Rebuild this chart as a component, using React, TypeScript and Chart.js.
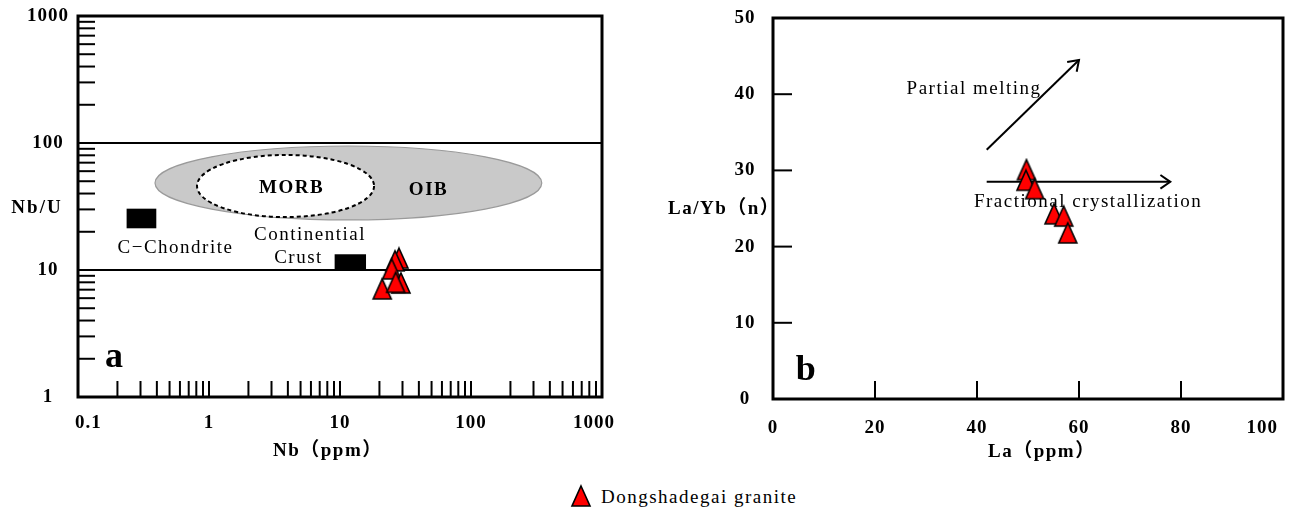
import React, { useEffect, useRef } from "react";
import { Chart, registerables } from "chart.js";

Chart.register(...registerables);

const FONT = "'Liberation Serif', 'Noto Sans CJK SC', serif";

const SERIES_NAME = "Dongshadegai granite";
// panel a : Nb (ppm) vs Nb/U
const NB_PPM = [28.2, 26.3, 24.8, 21.0, 29.2, 26.6];
const NB_U = [12.4, 11.8, 10.2, 7.1, 7.9, 8.0];
// panel b : La (ppm) vs La/Yb(n)
const LA_PPM = [49.7, 49.6, 51.3, 55.1, 57.0, 57.8];
const LA_YB_N = [30.1, 28.7, 27.6, 24.3, 24.0, 21.8];

const NB_TICKS = [0.1, 1, 10, 100, 1000];
const NB_U_TICKS = [1, 10, 100, 1000];
const LA_TICKS = [0, 20, 40, 60, 80, 100];
const LA_YB_TICKS = [0, 10, 20, 30, 40, 50];
const LOG_MINOR_MULTIPLIERS = [1, 2, 3, 4, 5, 6, 7, 8, 9];
const NB_U_REFERENCE_LINES = [100, 10];

// reference fields (data coordinates)
const OIB_FIELD = { xMin: 0.387, xMax: 347, yMin: 24.8, yMax: 94.7 };
const MORB_FIELD = { xMin: 0.81, xMax: 18.2, yMin: 26.1, yMax: 80.5 };
const C_CHONDRITE_BOX = { xMin: 0.235, xMax: 0.396, yMin: 21.3, yMax: 30.4 };
const CONTINENTAL_CRUST_BOX = { xMin: 9.1, xMax: 15.8, yMin: 9.87, yMax: 13.3 };

// trend arrows (data coordinates)
const PARTIAL_MELTING_X = [41.9, 60.0];
const PARTIAL_MELTING_Y = [32.7, 44.5];
const FRACTIONAL_X = [41.9, 77.9];
const FRACTIONAL_Y = [28.5, 28.5];

function makeTriangle() {
  const c = document.createElement("canvas");
  c.width = 22;
  c.height = 24;
  const ctx = c.getContext("2d")!;
  ctx.beginPath();
  ctx.moveTo(11, 2);
  ctx.lineTo(20, 22);
  ctx.lineTo(2, 22);
  ctx.closePath();
  ctx.fillStyle = "#ff0000";
  ctx.fill();
  ctx.lineWidth = 1.6;
  ctx.strokeStyle = "#000";
  ctx.lineJoin = "miter";
  ctx.stroke();
  return c;
}

type TextOpts = { size?: number; bold?: boolean; align?: CanvasTextAlign; spacing?: number };

function drawText(ctx: CanvasRenderingContext2D, s: string, x: number, y: number, o: TextOpts = {}) {
  ctx.save();
  ctx.font = `${o.bold ? "bold " : ""}${o.size ?? 19}px ${FONT}`;
  (ctx as any).letterSpacing = `${o.spacing ?? 1.5}px`;
  ctx.textAlign = o.align ?? "center";
  ctx.textBaseline = "alphabetic";
  ctx.fillStyle = "#000";
  ctx.fillText(s, x, y);
  ctx.restore();
}

function line(ctx: CanvasRenderingContext2D, x1: number, y1: number, x2: number, y2: number, w = 2) {
  ctx.save();
  ctx.beginPath();
  ctx.moveTo(x1, y1);
  ctx.lineTo(x2, y2);
  ctx.lineWidth = w;
  ctx.strokeStyle = "#000";
  ctx.stroke();
  ctx.restore();
}

function frame(chart: any) {
  const { ctx, chartArea: a } = chart;
  ctx.save();
  ctx.lineWidth = 3;
  ctx.strokeStyle = "#000";
  ctx.strokeRect(a.left, a.top, a.right - a.left, a.bottom - a.top);
  ctx.restore();
}

function boxPx(chart: any, b: { xMin: number; xMax: number; yMin: number; yMax: number }) {
  const sx = chart.scales.x;
  const sy = chart.scales.y;
  const x1 = sx.getPixelForValue(b.xMin);
  const x2 = sx.getPixelForValue(b.xMax);
  const y1 = sy.getPixelForValue(b.yMax);
  const y2 = sy.getPixelForValue(b.yMin);
  return { x1, x2, y1, y2 };
}

function xTickLabels(chart: any, values: number[], baselineOffset: number, minLeft: number | null, maxRight: number | null) {
  const { ctx, chartArea: a } = chart;
  const sx = chart.scales.x;
  ctx.save();
  ctx.font = `bold 19px ${FONT}`;
  (ctx as any).letterSpacing = "1px";
  values.forEach((v) => {
    const s = String(v);
    const w = ctx.measureText(s).width;
    let cx = sx.getPixelForValue(v);
    if (minLeft !== null && cx - w / 2 < minLeft) cx = minLeft + w / 2;
    if (maxRight !== null && cx + w / 2 > maxRight) cx = maxRight - w / 2;
    drawText(ctx, s, cx, a.bottom + baselineOffset, { bold: true, spacing: 1 });
  });
  ctx.restore();
}

function arrowHead(chart: any, datasetIndex: number) {
  const { ctx } = chart;
  const pts = chart.getDatasetMeta(datasetIndex).data;
  const p = pts[pts.length - 2];
  const q = pts[pts.length - 1];
  const ang = Math.atan2(q.y - p.y, q.x - p.x);
  const L = 12;
  const spread = Math.PI / 5.2;
  ctx.save();
  ctx.beginPath();
  ctx.moveTo(q.x - L * Math.cos(ang - spread), q.y - L * Math.sin(ang - spread));
  ctx.lineTo(q.x, q.y);
  ctx.lineTo(q.x - L * Math.cos(ang + spread), q.y - L * Math.sin(ang + spread));
  ctx.lineWidth = 2;
  ctx.strokeStyle = "#000";
  ctx.stroke();
  ctx.restore();
}

const spacingPlugin = {
  id: "spacing",
  beforeDraw(chart: any) {
    (chart.ctx as any).letterSpacing = "1px";
  },
  afterDraw(chart: any) {
    (chart.ctx as any).letterSpacing = "0px";
  },
};

export default function App() {
  const leftRef = useRef<HTMLCanvasElement>(null);
  const rightRef = useRef<HTMLCanvasElement>(null);

  useEffect(() => {
    const tri = makeTriangle();

    const yTickFont = { family: FONT, size: 19, weight: "bold" as const };

    const leftPlugin = {
      id: "leftDeco",
      beforeDatasetsDraw(chart: any) {
        const { ctx } = chart;
        // OIB field
        let b = boxPx(chart, OIB_FIELD);
        ctx.save();
        ctx.beginPath();
        ctx.ellipse((b.x1 + b.x2) / 2, (b.y1 + b.y2) / 2, (b.x2 - b.x1) / 2, (b.y2 - b.y1) / 2, 0, 0, Math.PI * 2);
        ctx.fillStyle = "#c9c9c9";
        ctx.fill();
        ctx.lineWidth = 1.2;
        ctx.strokeStyle = "#9a9a9a";
        ctx.stroke();
        ctx.restore();
        // MORB field
        b = boxPx(chart, MORB_FIELD);
        ctx.save();
        ctx.beginPath();
        ctx.ellipse((b.x1 + b.x2) / 2, (b.y1 + b.y2) / 2, (b.x2 - b.x1) / 2, (b.y2 - b.y1) / 2, 0, 0, Math.PI * 2);
        ctx.fillStyle = "#ffffff";
        ctx.fill();
        ctx.setLineDash([4, 3]);
        ctx.lineWidth = 2;
        ctx.strokeStyle = "#000";
        ctx.stroke();
        ctx.restore();
        // boxes
        [C_CHONDRITE_BOX, CONTINENTAL_CRUST_BOX].forEach((bx) => {
          const p = boxPx(chart, bx);
          ctx.save();
          ctx.fillStyle = "#000";
          ctx.fillRect(p.x1, p.y1, p.x2 - p.x1, p.y2 - p.y1);
          ctx.restore();
        });
        const sx = chart.scales.x;
        const sy = chart.scales.y;
        const P = (x: number, y: number) => [sx.getPixelForValue(x), sy.getPixelForValue(y)];
        let q = P(4.27, 40.4);
        drawText(ctx, "MORB", q[0], q[1], { bold: true });
        q = P(47.4, 38.9);
        drawText(ctx, "OIB", q[0], q[1], { bold: true });
        q = P(0.555, 13.6);
        drawText(ctx, "C\u2212Chondrite", q[0], q[1]);
        q = P(5.9, 17.2);
        drawText(ctx, "Continential", q[0], q[1]);
        q = P(4.82, 11.4);
        drawText(ctx, "Crust", q[0], q[1]);
        q = P(0.188, 1.72);
        drawText(ctx, "a", q[0], q[1], { bold: true, size: 36, spacing: 0 });
      },
      afterDatasetsDraw(chart: any) {
        const { ctx, chartArea: a } = chart;
        const sx = chart.scales.x;
        const sy = chart.scales.y;
        [0.1, 1, 10, 100].forEach((d) =>
          LOG_MINOR_MULTIPLIERS.forEach((m) => {
            const v = m * d;
            if (v <= NB_TICKS[0] || v >= NB_TICKS[NB_TICKS.length - 1]) return;
            const x = sx.getPixelForValue(v);
            line(ctx, x, a.bottom, x, a.bottom - 16, 2);
          })
        );
        [1, 10, 100].forEach((d) =>
          LOG_MINOR_MULTIPLIERS.forEach((m) => {
            const v = m * d;
            if (v <= NB_U_TICKS[0] || v >= NB_U_TICKS[NB_U_TICKS.length - 1]) return;
            const y = sy.getPixelForValue(v);
            line(ctx, a.left, y, a.left + 17, y, 2);
          })
        );
        frame(chart);
      },
      afterDraw(chart: any) {
        const { ctx, chartArea: a } = chart;
        xTickLabels(chart, NB_TICKS, 31, a.left - 3, a.right + 13);
        drawText(ctx, "Nb/U", a.left - 41, 213, { bold: true, spacing: 2 });
        drawText(ctx, "Nb\uFF08ppm\uFF09", a.left + 195, a.bottom + 59, { bold: true, align: "left" });
      },
    };

    const rightPlugin = {
      id: "rightDeco",
      beforeDatasetsDraw(chart: any) {
        const { ctx } = chart;
        const sx = chart.scales.x;
        const sy = chart.scales.y;
        const P = (x: number, y: number) => [sx.getPixelForValue(x), sy.getPixelForValue(y)];
        let q = P(26.2, 40.0);
        drawText(ctx, "Partial melting", q[0], q[1], { align: "left" });
        q = P(39.4, 25.2);
        drawText(ctx, "Fractional crystallization", q[0], q[1], { align: "left" });
        q = P(6.4, 2.5);
        drawText(ctx, "b", q[0], q[1], { bold: true, size: 36, spacing: 0 });
      },
      afterDatasetsDraw(chart: any) {
        const { ctx, chartArea: a } = chart;
        const sx = chart.scales.x;
        const sy = chart.scales.y;
        LA_TICKS.slice(1, -1).forEach((v) => {
          const x = sx.getPixelForValue(v);
          line(ctx, x, a.bottom, x, a.bottom - 18, 2);
        });
        LA_YB_TICKS.slice(1, -1).forEach((v) => {
          const y = sy.getPixelForValue(v);
          line(ctx, a.left, y, a.left + 19, y, 2);
        });
        arrowHead(chart, 1);
        arrowHead(chart, 2);
        frame(chart);
      },
      afterDraw(chart: any) {
        const { ctx, chartArea: a } = chart;
        xTickLabels(chart, LA_TICKS, 33.5, null, a.right - 5);
        drawText(ctx, "La/Yb\uFF08n\uFF09", a.left - 105, 214, { bold: true, align: "left" });
        drawText(ctx, "La\uFF08ppm\uFF09", a.left + 215, a.bottom + 58, { bold: true, align: "left" });
      },
    };

    const left = new Chart(leftRef.current!, {
      type: "scatter",
      data: {
        datasets: [
          {
            label: SERIES_NAME,
            data: NB_PPM.map((x, i) => ({ x, y: NB_U[i] })),
            pointStyle: tri as any,
            pointRadius: 10,
            backgroundColor: "#ff0000",
            borderColor: "#000",
          },
          ...NB_U_REFERENCE_LINES.map((v) => ({
            type: "line" as const,
            label: `Nb/U = ${v}`,
            data: [
              { x: NB_TICKS[0], y: v },
              { x: NB_TICKS[NB_TICKS.length - 1], y: v },
            ],
            borderColor: "#000",
            borderWidth: 2,
            pointRadius: 0,
            fill: false,
          })),
        ],
      } as any,
      options: {
        animation: false,
        responsive: false,
        events: [],
        layout: { padding: { top: 16, right: 38, bottom: 73, left: 0 } },
        plugins: { legend: { display: false }, tooltip: { enabled: false } },
        scales: {
          x: { type: "logarithmic", min: 0.1, max: 1000, display: false },
          y: {
            type: "logarithmic",
            min: 1,
            max: 1000,
            afterFit: (s: any) => {
              s.width = 78;
            },
            afterBuildTicks: (s: any) => {
              s.ticks = NB_U_TICKS.map((value) => ({ value }));
            },
            grid: { display: false, drawTicks: true, tickLength: 11 },
            border: { display: false },
            ticks: {
              crossAlign: "center",
              padding: 0,
              color: "#000",
              autoSkip: false,
              font: yTickFont,
              callback: (v: any) => String(v),
            },
          },
        },
      } as any,
      plugins: [spacingPlugin, leftPlugin],
    });

    const right = new Chart(rightRef.current!, {
      type: "scatter",
      data: {
        datasets: [
          {
            label: SERIES_NAME,
            data: LA_PPM.map((x, i) => ({ x, y: LA_YB_N[i] })),
            pointStyle: tri as any,
            pointRadius: 10,
            backgroundColor: "#ff0000",
            borderColor: "#000",
          },
          {
            type: "line",
            label: "Partial melting",
            data: PARTIAL_MELTING_X.map((x, i) => ({ x, y: PARTIAL_MELTING_Y[i] })),
            borderColor: "#000",
            borderWidth: 2,
            pointRadius: 0,
            fill: false,
          },
          {
            type: "line",
            label: "Fractional crystallization",
            data: FRACTIONAL_X.map((x, i) => ({ x, y: FRACTIONAL_Y[i] })),
            borderColor: "#000",
            borderWidth: 2,
            pointRadius: 0,
            fill: false,
          },
        ],
      } as any,
      options: {
        animation: false,
        responsive: false,
        events: [],
        layout: { padding: { top: 18, right: 1, bottom: 71, left: 0 } },
        plugins: { legend: { display: false }, tooltip: { enabled: false } },
        scales: {
          x: { type: "linear", min: 0, max: 100, display: false },
          y: {
            type: "linear",
            min: 0,
            max: 50,
            afterFit: (s: any) => {
              s.width = 133;
            },
            afterBuildTicks: (s: any) => {
              s.ticks = LA_YB_TICKS.map((value) => ({ value }));
            },
            grid: { display: false, drawTicks: true, tickLength: 18.5 },
            border: { display: false },
            ticks: {
              crossAlign: "center",
              padding: 0,
              color: "#000",
              autoSkip: false,
              font: yTickFont,
              callback: (v: any) => String(v),
            },
          },
        },
      } as any,
      plugins: [spacingPlugin, rightPlugin],
    });

    return () => {
      left.destroy();
      right.destroy();
    };
  }, []);

  return (
    <div
      style={{
        position: "absolute",
        left: 0,
        top: 0,
        width: 1294,
        height: 509,
        background: "#fff",
        overflow: "hidden",
      }}
    >
      <canvas ref={leftRef} width={640} height={470} style={{ position: "absolute", left: 0, top: 0 }} />
      <canvas ref={rightRef} width={654} height={470} style={{ position: "absolute", left: 640, top: 0 }} />
      <svg width={22} height={24} style={{ position: "absolute", left: 570, top: 484 }}>
        <polygon points="11,2 20,22 2,22" fill="#ff0000" stroke="#000" strokeWidth={1.6} />
      </svg>
      <span
        style={{
          position: "absolute",
          left: 601,
          top: 487,
          fontFamily: FONT,
          fontSize: 19,
          lineHeight: "19px",
          letterSpacing: "1.5px",
          color: "#000",
          whiteSpace: "nowrap",
        }}
      >
        {SERIES_NAME}
      </span>
    </div>
  );
}
